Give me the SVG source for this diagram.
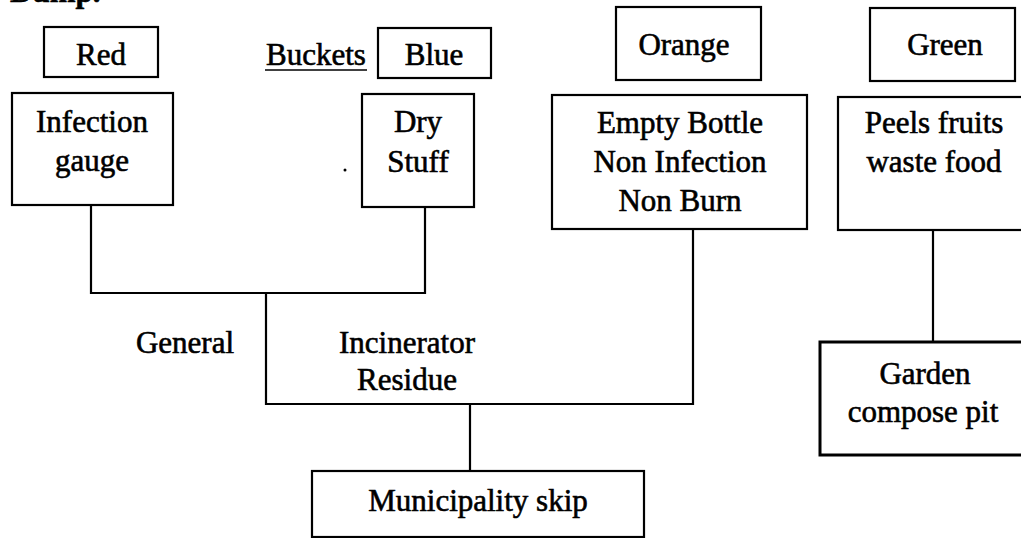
<svg xmlns="http://www.w3.org/2000/svg" width="1021" height="538" viewBox="0 0 1021 538">
<style>
.box{fill:#fff;stroke:#000;stroke-width:2.2}
.thick{stroke-width:3}
.t{font-family:"Liberation Serif","Times New Roman",serif;font-size:31px;fill:#000;text-anchor:middle;stroke:#000;stroke-width:0.6}
.ln{fill:none;stroke:#000;stroke-width:2.2}
</style>
<rect x="0" y="0" width="1021" height="538" fill="#fff"/>
<text class="t" x="10" y="2" style="text-anchor:start;font-weight:bold">Dump.</text>
<g id="connectors">
<path class="ln" d="M91 205 V293 H425 V207"/>
<path class="ln" d="M266 293 V404 H693 V229"/>
<path class="ln" d="M470 404 V471"/>
<path class="ln" d="M933 230 V342"/>
</g>
<g id="red"><rect class="box" x="44" y="27" width="114" height="50"/><text class="t" x="101" y="65">Red</text></g>
<g id="buckets"><text class="t" x="316" y="65">Buckets</text><line x1="265" y1="70" x2="367" y2="70" stroke="#000" stroke-width="1.5"/></g>
<g id="blue"><rect class="box" x="378" y="28" width="113" height="50"/><text class="t" x="434" y="65">Blue</text></g>
<g id="orange"><rect class="box" x="616" y="7" width="145" height="73"/><text class="t" x="684" y="55">Orange</text></g>
<g id="green"><rect class="box" x="870" y="8" width="145" height="73"/><text class="t" x="945" y="55">Green</text></g>
<g id="infection"><rect class="box" x="12" y="93" width="161" height="112"/><text class="t" x="92" y="132">Infection</text><text class="t" x="92" y="171">gauge</text></g>
<g id="dry"><rect class="box" x="362" y="94" width="112" height="113"/><text class="t" x="418" y="132">Dry</text><text class="t" x="418" y="172">Stuff</text></g>
<circle cx="345" cy="170" r="1.5" fill="#000"/>
<g id="empty"><rect class="box" x="552" y="95" width="255" height="134"/><text class="t" x="680" y="133">Empty Bottle</text><text class="t" x="680" y="172">Non Infection</text><text class="t" x="680" y="211">Non Burn</text></g>
<g id="peels"><rect class="box" x="838" y="97" width="190" height="133"/><text class="t" x="934" y="133">Peels fruits</text><text class="t" x="934" y="172">waste food</text></g>
<g id="general"><text class="t" x="185" y="353">General</text></g>
<g id="incinerator"><text class="t" x="407" y="353">Incinerator</text><text class="t" x="407" y="390">Residue</text></g>
<g id="municipality"><rect class="box" x="312" y="471" width="332" height="66"/><text class="t" x="478" y="511">Municipality skip</text></g>
<g id="garden"><rect class="box thick" x="820" y="342" width="210" height="113"/><text class="t" x="925" y="384">Garden</text><text class="t" x="923" y="422">compose pit</text></g>
</svg>
